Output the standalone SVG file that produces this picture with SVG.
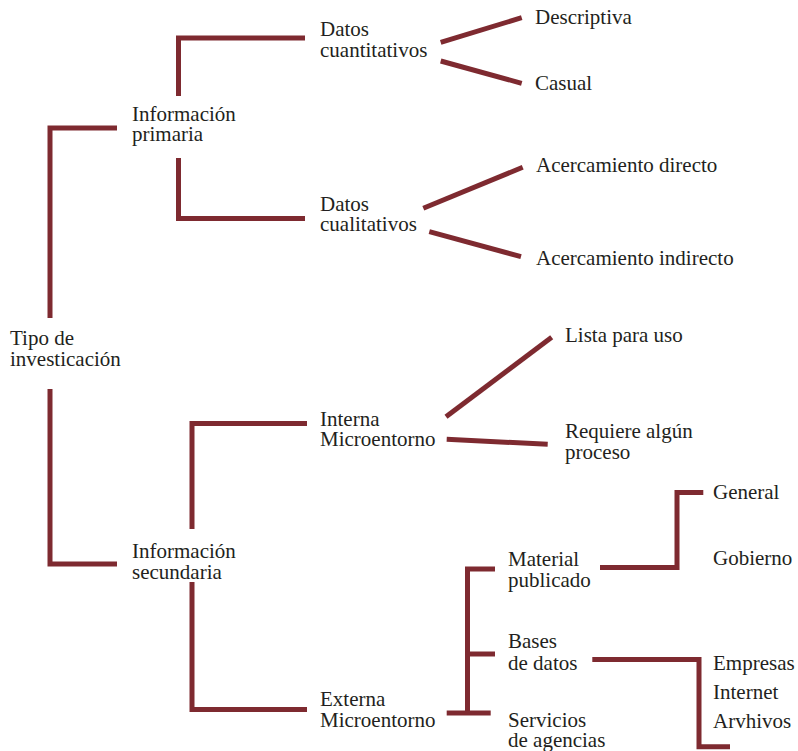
<svg xmlns="http://www.w3.org/2000/svg" width="798" height="751" viewBox="0 0 798 751">
<style>
.t{font-family:"Liberation Serif","Times New Roman",serif;font-size:21px;fill:#231f20}
.c{fill:none;stroke:#7e2a30;stroke-width:5;stroke-linecap:butt;stroke-linejoin:miter}
</style>
<rect width="798" height="751" fill="#fff"/>
<g id="connectors">
<path class="c" d="M117,128 H50 V318"/>
<path class="c" d="M50,389 V564 H117"/>
<path class="c" d="M178.5,96 V38 H305"/>
<path class="c" d="M178.5,158 V218.5 H305"/>
<path class="c" d="M192,529 V423.5 H307"/>
<path class="c" d="M192,582 V709.5 H307"/>
<path class="c" d="M440.7,42.3 L521.7,17.7"/>
<path class="c" d="M440.7,61 L521.7,83.3"/>
<path class="c" d="M423.3,208.3 L522.7,167.3"/>
<path class="c" d="M429.3,231.7 L521,256.7"/>
<path class="c" d="M446,416.7 L551.7,337.3"/>
<path class="c" d="M446.7,439.3 L547.7,444.3"/>
<path class="c" d="M495,569 H467.5 V713"/>
<path class="c" d="M467.5,654 H495"/>
<path class="c" d="M446.7,713 H490.7"/>
<path class="c" d="M600,567.5 H677 V492.5 H703.3"/>
<path class="c" d="M592.3,659.5 H699 V746.7 H730"/>
</g>
<g id="tipo"><text class="t" x="10" y="345">Tipo de</text><text class="t" x="10" y="366">investicación</text></g>
<g id="info-primaria"><text class="t" x="132" y="121">Información</text><text class="t" x="132" y="141">primaria</text></g>
<g id="info-secundaria"><text class="t" x="132" y="558">Información</text><text class="t" x="132" y="579">secundaria</text></g>
<g id="datos-cuant"><text class="t" x="320" y="36">Datos</text><text class="t" x="320" y="57">cuantitativos</text></g>
<g id="datos-cual"><text class="t" x="320" y="211">Datos</text><text class="t" x="320" y="231">cualitativos</text></g>
<g id="interna"><text class="t" x="320" y="426">Interna</text><text class="t" x="320" y="446">Microentorno</text></g>
<g id="externa"><text class="t" x="320" y="706">Externa</text><text class="t" x="320" y="727">Microentorno</text></g>
<g id="descriptiva"><text class="t" x="535" y="24">Descriptiva</text></g>
<g id="casual"><text class="t" x="535" y="90">Casual</text></g>
<g id="acerc-directo"><text class="t" x="536" y="172">Acercamiento directo</text></g>
<g id="acerc-indirecto"><text class="t" x="536" y="265">Acercamiento indirecto</text></g>
<g id="lista"><text class="t" x="565" y="342">Lista para uso</text></g>
<g id="requiere"><text class="t" x="565" y="438">Requiere algún</text><text class="t" x="565" y="459">proceso</text></g>
<g id="material"><text class="t" x="508" y="566">Material</text><text class="t" x="508" y="587">publicado</text></g>
<g id="bases"><text class="t" x="508" y="648">Bases</text><text class="t" x="508" y="670">de datos</text></g>
<g id="servicios"><text class="t" x="508" y="727">Servicios</text><text class="t" x="508" y="747">de agencias</text></g>
<g id="general"><text class="t" x="713" y="499">General</text></g>
<g id="gobierno"><text class="t" x="713" y="565">Gobierno</text></g>
<g id="empresas"><text class="t" x="713" y="670">Empresas</text></g>
<g id="internet"><text class="t" x="713" y="699">Internet</text></g>
<g id="arvhivos"><text class="t" x="713" y="728">Arvhivos</text></g>
</svg>
